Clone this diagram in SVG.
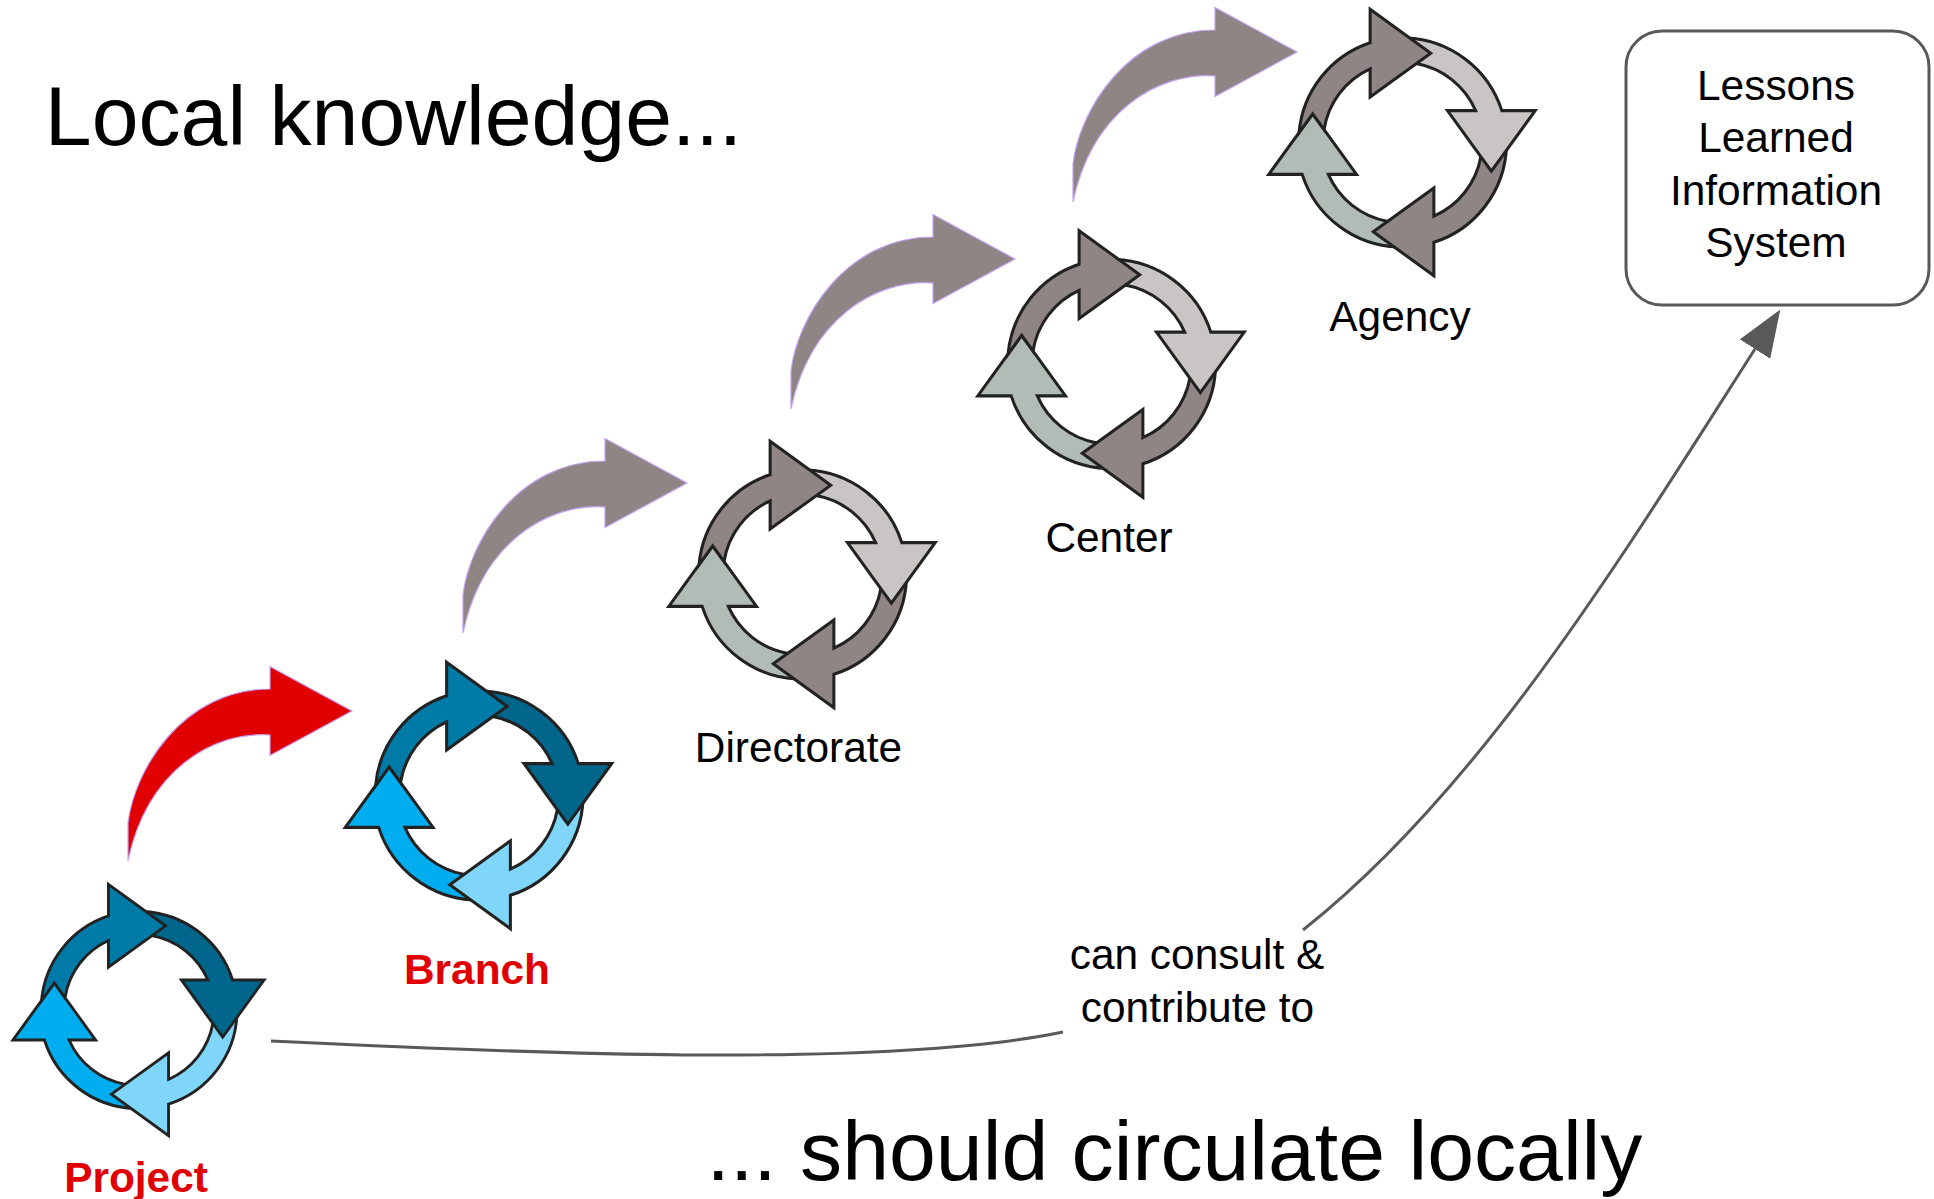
<svg xmlns="http://www.w3.org/2000/svg" xmlns:xlink="http://www.w3.org/1999/xlink" width="1934" height="1199" viewBox="0 0 1934 1199">
<style>
text{font-family:"Liberation Sans",Arial,sans-serif;fill:#000;text-anchor:middle}
.title{font-size:84.2px}
.lab{font-size:42.4px}
.red{font-weight:bold;fill:#e00000}
.seg{stroke:#222;stroke-width:2.9;stroke-linejoin:miter}
.b1{fill:#007ba7}.b2{fill:#00668c}.b3{fill:#80d6f9}.b4{fill:#00aeef}
.g1{fill:#8f8584}.g2{fill:#c9c5c5}.g3{fill:#8f8584}.g4{fill:#b2bcb7}
.bend{stroke:#c4a2f4;stroke-width:1.2}
.conn{fill:none;stroke:#595959;stroke-width:3}
</style>
<defs>
<path id="seg" class="seg" d="M4 -100A100 100 0 0 1 95.5 -30.5L127.5 -30.5L85.5 27.5L43.5 -30.5L70.5 -30.5A77 77 0 0 0 13.5 -75.5Z"/>
<path id="lead" class="seg" d="M-30.5 -127.5L27.5 -85.5L-30.5 -43.5L-30.5 -70.5A77 77 0 0 0 -74.6 -12.5L-85.5 -27.5L-98.5 -9.5A100 100 0 0 1 -30.5 -95.5Z"/>
<g id="cycB">
<use href="#seg" class="b4" transform="rotate(180)"/>
<use href="#seg" class="b3" transform="rotate(90)"/>
<use href="#seg" class="b2"/>
<use href="#lead" class="b1"/>
</g>
<g id="cycG">
<use href="#seg" class="g4" transform="rotate(180)"/>
<use href="#seg" class="g3" transform="rotate(90)"/>
<use href="#seg" class="g2"/>
<use href="#lead" class="g1"/>
</g>
<path id="bend" class="bend" d="M-224 150L-224 112C-218 60 -170 -22 -82 -22L-82 -44.5L0 0L-82 44.5L-82 24C-140 20 -205 60 -224 150Z"/>
<marker id="head" markerUnits="userSpaceOnUse" markerWidth="50" markerHeight="40" refX="0" refY="18" orient="auto">
<path d="M0 0L47 18L0 36Z" fill="#595959"/>
</marker>
</defs>
<rect width="1934" height="1199" fill="#fff"/>
<g id="connectors">
<path class="conn" marker-end="url(#head)" d="M271 1041C500 1052 880 1070 1063 1032M1303 930C1480 790 1620 560 1755 349"/>
<use href="#bend" fill="#e00000" transform="translate(352 711)"/>
<use href="#bend" fill="#8f8584" transform="translate(687 483)"/>
<use href="#bend" fill="#8f8584" transform="translate(1015 259)"/>
<use href="#bend" fill="#8f8584" transform="translate(1297 52)"/>
</g>
<g id="project"><use href="#cycB" transform="translate(138.5 1010) scale(.985)"/><text class="lab red" x="136" y="1192">Project</text></g>
<g id="branch"><use href="#cycB" transform="translate(478.5 795.5) scale(1.045)"/><text class="lab red" x="477" y="984">Branch</text></g>
<g id="directorate"><use href="#cycG" transform="translate(802 574.5) scale(1.045)"/><text class="lab" x="798.5" y="762">Directorate</text></g>
<g id="center"><use href="#cycG" transform="translate(1111 364) scale(1.045)"/><text class="lab" x="1109" y="552">Center</text></g>
<g id="agency"><use href="#cycG" transform="translate(1402 142.5) scale(1.045)"/><text class="lab" x="1400" y="331">Agency</text></g>
<g id="lessons">
<rect x="1626" y="31" width="303" height="274" rx="36" fill="#fff" stroke="#595959" stroke-width="3"/>
<text class="lab" x="1776" y="100">Lessons</text>
<text class="lab" x="1776" y="152">Learned</text>
<text class="lab" x="1776" y="205">Information</text>
<text class="lab" x="1776" y="257">System</text>
</g>
<g id="connector-label">
<text class="lab" x="1197" y="969">can consult &amp;</text>
<text class="lab" x="1197.5" y="1022">contribute to</text>
</g>
<g id="titles">
<text class="title" x="393.5" y="145">Local knowledge...</text>
<text class="title" x="1174.5" y="1180">... should circulate locally</text>
</g>
</svg>
